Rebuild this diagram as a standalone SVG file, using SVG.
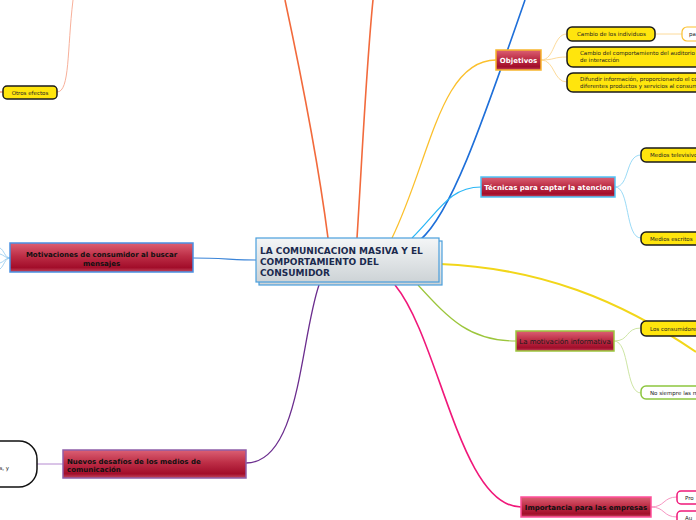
<svg xmlns="http://www.w3.org/2000/svg" width="696" height="520" viewBox="0 0 696 520">
<defs>
<linearGradient id="red" x1="0" y1="0" x2="0" y2="1">
<stop offset="0" stop-color="#dc6074"/>
<stop offset="0.45" stop-color="#bd2e46"/>
<stop offset="0.85" stop-color="#a20d2a"/>
<stop offset="1" stop-color="#c24a60"/>
</linearGradient>
<linearGradient id="central" x1="0" y1="0" x2="0" y2="1">
<stop offset="0" stop-color="#f4f6f7"/>
<stop offset="1" stop-color="#cdd3d6"/>
</linearGradient>
<style>
.c{fill:none}
.main{fill:url(#red);stroke-width:1.5}
.yel{fill:#ffe50d;stroke:#1a1a1a;stroke-width:1.5}
.wht{fill:#ffffff;stroke-width:1.5}
.t{font-family:"DejaVu Sans","Liberation Sans",sans-serif}
.mt{font-size:7px;font-weight:bold}
.st{font-size:5.5px;fill:#222}
</style>
</defs>
<rect width="696" height="520" fill="#ffffff"/>
<g id="connectors">
<path class="c" d="M328,238 C318,160 300,70 285,0" stroke="#f26a3c" stroke-width="1.6"/>
<path class="c" d="M357,238 C362,160 366,70 373,0" stroke="#f26a3c" stroke-width="1.6"/>
<path class="c" d="M57,92 C70,92 67,50 73,0" stroke="#f8b09a" stroke-width="1"/>
<path class="c" d="M0,92 L3,92" stroke="#f26a3c" stroke-width="1"/>
<path class="c" d="M392,238 C430,160 440,60 496,60" stroke="#fbc02d" stroke-width="1.3"/>
<path class="c" d="M420,240 C450,215 480,130 525,0" stroke="#1e6fd9" stroke-width="1.6"/>
<path class="c" d="M412,238 C440,210 450,187 481,187" stroke="#29b6f6" stroke-width="1.2"/>
<path class="c" d="M440,264 C540,268 620,300 696,352" stroke="#f2d61a" stroke-width="2"/>
<path class="c" d="M418,285 C450,320 470,341 516,341" stroke="#9cc63c" stroke-width="1.2"/>
<path class="c" d="M193,258 C220,258 235,260 256,260" stroke="#3a84d8" stroke-width="1.2"/>
<path class="c" d="M10,258 C5,258 4,250 0,248 M10,258 C5,258 4,255 0,254 M10,258 C5,258 4,262 0,263 M10,258 C5,258 4,266 0,269" stroke="#8ec7ee" stroke-width="0.8"/>
<path class="c" d="M319,285 C300,340 300,463 246,463" stroke="#6b2d8e" stroke-width="1.3"/>
<path class="c" d="M63,464 L37,464" stroke="#b58ad0" stroke-width="1"/>
<path class="c" d="M395,285 C440,340 460,507 521,507" stroke="#f0187a" stroke-width="1.6"/>
<path class="c" d="M541,60 C555,60 553,34 567,34 M541,60 C555,60 553,57 567,57 M541,60 C555,60 553,82 567,82" stroke="#fcd68f" stroke-width="0.9"/>
<path class="c" d="M655,34 L682,34" stroke="#fcd68f" stroke-width="0.9"/>
<path class="c" d="M615,187 C630,187 625,155 641,155 M615,187 C630,187 625,238 641,238" stroke="#8fd6f5" stroke-width="0.9"/>
<path class="c" d="M614,341 C630,341 625,328 641,328 M614,341 C630,341 625,393 641,393" stroke="#c7e29a" stroke-width="0.9"/>
<path class="c" d="M651,507 C665,507 663,497 677,497 M651,507 C665,507 663,517 677,517" stroke="#f58bbb" stroke-width="0.9"/>
</g>
<g id="central-node">
<rect x="259" y="241" width="183" height="44" fill="url(#central)" stroke="#4a9fdc" stroke-width="1.2"/>
<rect x="256" y="238" width="183" height="44" fill="url(#central)" stroke="#4a9fdc" stroke-width="1.2"/>
<text class="t" x="260" y="253.5" font-size="9" font-weight="bold" fill="#1b2a4e">LA COMUNICACION MASIVA Y EL</text>
<text class="t" x="260" y="264.5" font-size="9" font-weight="bold" fill="#1b2a4e">COMPORTAMIENTO DEL</text>
<text class="t" x="260" y="275.5" font-size="9" font-weight="bold" fill="#1b2a4e">CONSUMIDOR</text>
</g>
<g id="otros-efectos">
<rect class="yel" x="3" y="86" width="54" height="13" rx="4"/>
<text class="t st" x="30" y="94.5" text-anchor="middle">Otros efectos</text>
</g>
<g id="objetivos">
<rect class="main" x="496" y="50" width="45" height="20" stroke="#f7b52c"/>
<text class="t mt" x="518.5" y="62.5" text-anchor="middle" fill="#ffffff">Objetivos</text>
</g>
<g id="cambio-individuos">
<rect class="yel" x="567" y="27" width="88" height="14" rx="5"/>
<text class="t st" x="577" y="36">Cambio de los individuos</text>
</g>
<g id="pa">
<rect x="682" y="27" width="30" height="14" rx="5" fill="#ffffff" stroke="#fbc02d" stroke-width="1.2"/>
<text class="t st" x="689" y="36">pa</text>
</g>
<g id="cambio-comportamiento">
<rect class="yel" x="567" y="47" width="140" height="20" rx="6"/>
<text class="t st" x="580" y="55">Cambio del comportamiento del auditorio</text>
<text class="t st" x="580" y="62">de interacción</text>
</g>
<g id="difundir">
<rect class="yel" x="567" y="73" width="140" height="19" rx="6"/>
<text class="t st" x="580" y="81">Difundir información, proporcionando el co</text>
<text class="t st" x="580" y="88">diferentes productos y servicios al consum</text>
</g>
<g id="tecnicas">
<rect class="main" x="481" y="177" width="134" height="20" stroke="#4fc3f7"/>
<text class="t mt" x="548" y="189.5" text-anchor="middle" fill="#ffffff">Técnicas para captar la atencion</text>
</g>
<g id="medios-televisivos">
<rect class="yel" x="641" y="148" width="70" height="14" rx="5"/>
<text class="t st" x="650" y="157">Medios televisivo</text>
</g>
<g id="medios-escritos">
<rect class="yel" x="641" y="232" width="70" height="13" rx="5"/>
<text class="t st" x="650" y="240.5">Medios escritos</text>
</g>
<g id="motivacion-informativa">
<rect class="main" x="516" y="331" width="98" height="20" stroke="#9cc63c"/>
<text class="t" x="565" y="343.5" text-anchor="middle" font-size="7" fill="#1a1a1a">La motivación informativa</text>
</g>
<g id="los-consumidores">
<rect class="yel" x="641" y="321" width="70" height="15" rx="5"/>
<text class="t st" x="650" y="330.5">Los consumidores</text>
</g>
<g id="no-siempre">
<rect class="wht" x="641" y="386" width="70" height="13" rx="5" stroke="#8dc63f"/>
<text class="t st" x="650" y="394.5" fill="#444">No siempre las m</text>
</g>
<g id="motivaciones-consumidor">
<rect class="main" x="10" y="243" width="183" height="29" stroke="#4a90e2"/>
<text class="t mt" x="101.5" y="256.5" text-anchor="middle" fill="#111">Motivaciones de consumidor al buscar</text>
<text class="t mt" x="101.5" y="265.5" text-anchor="middle" fill="#111">mensajes</text>
</g>
<g id="nuevos-desafios">
<rect class="main" x="63" y="450" width="183" height="28" stroke="#8e5ea8"/>
<text class="t mt" x="67" y="463.5" fill="#111">Nuevos desafíos de los medios de</text>
<text class="t mt" x="67" y="471.5" fill="#111">comunicación</text>
</g>
<g id="left-node">
<rect x="-40" y="441" width="77" height="46" rx="18" fill="#ffffff" stroke="#111" stroke-width="1.5"/>
<text class="t st" x="9" y="470" text-anchor="end" fill="#444">s, y</text>
</g>
<g id="importancia">
<rect class="main" x="521" y="497" width="130" height="20" stroke="#ff4f9a"/>
<text class="t mt" x="586" y="509.5" text-anchor="middle" fill="#111">Importancia para las empresas</text>
</g>
<g id="pro">
<rect class="wht" x="677" y="491" width="40" height="13" rx="4" stroke="#f0187a"/>
<text class="t st" x="685" y="499.5" fill="#333">Pro</text>
</g>
<g id="au">
<rect class="wht" x="677" y="511" width="40" height="13" rx="4" stroke="#f0187a"/>
<text class="t st" x="685" y="519.5" fill="#333">Au</text>
</g>
</svg>
